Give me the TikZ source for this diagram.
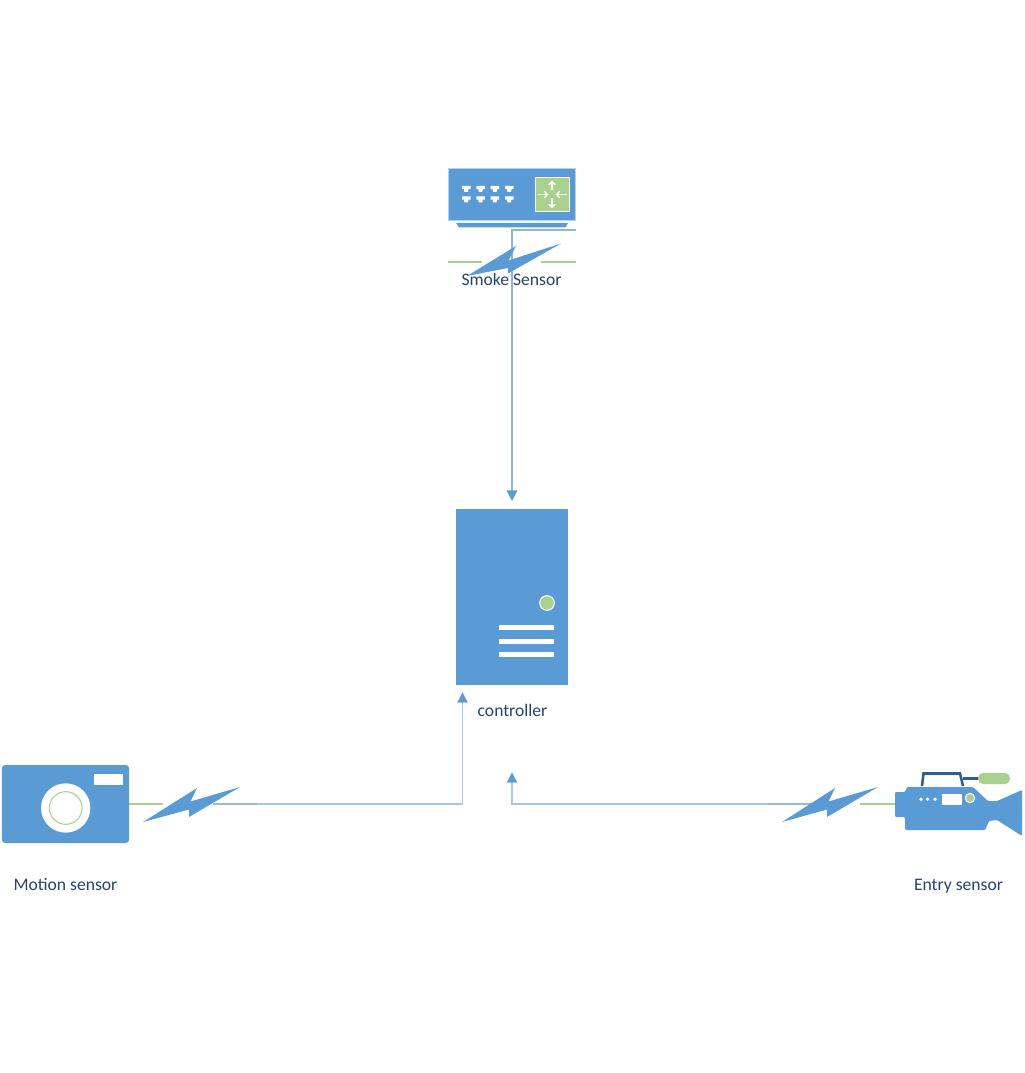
\documentclass[tikz,border=0pt]{standalone}
\usepackage{fontspec}
\setmainfont{Carlito}
\usetikzlibrary{arrows.meta}
\definecolor{vblue}{HTML}{5B9BD5}
\definecolor{vgreen}{HTML}{A9D18E}
\definecolor{vdark}{HTML}{2E5F94}
\definecolor{vtext}{HTML}{24446B}
\definecolor{vwire}{HTML}{8DB5DC}
\tikzset{
  x=0.75pt,y=-0.75pt,
  label text/.style={text=vtext,font=\fontsize{13.2}{15}\selectfont,inner sep=0pt,anchor=base},
  box/.style={fill=vblue,draw=none,inner sep=0pt,outer sep=0pt,rectangle},
  wire/.style={draw=vwire,line width=1pt,-{Triangle[length=8pt,width=8pt,color=vblue,fill=vblue]}},
  greenlink/.style={draw=vgreen,line width=1.1pt},
  bolt/.style={fill=vblue,draw=none},
  port/.style={fill=white,draw=none},
  uparrow/.style={draw=white,line width=0.9pt,-{Straight Barb[length=2.6pt,width=5pt]}},
}
\newcommand{\vport}[2]{\fill[port] (#1,#2) -- (#1+8.5,#2) -- (#1+8.5,#2+3.2) -- (#1+6.5,#2+3.2) -- (#1+6,#2+6) -- (#1+2.5,#2+6) -- (#1+2,#2+3.2) -- (#1,#2+3.2) -- cycle;}
\begin{document}
\begin{tikzpicture}
\useasboundingbox (0,0) rectangle (1024,1073);
\fill[white] (0,0) rectangle (1024,1073);

% --- Smoke sensor (switch)
\node[box,draw=vblue!45!white,line width=0.6pt,minimum width=95pt,minimum height=38.5pt] (switch) at (512,194.5) {};
\fill[vblue] (456,223) -- (568,223) -- (565.5,227.5) -- (459,227.5) -- cycle;
\node[fill=vgreen,draw=white,line width=0.6pt,inner sep=0pt,minimum width=25.5pt,minimum height=25pt] (router) at (552,194.5) {};
\foreach \px in {462,476.3,490.6,505}{
  \vport{\px}{186}
  \vport{\px}{196.5}
}
\draw[uparrow] (552,190.5) -- (552,180.5);
\draw[uparrow] (552,198.5) -- (552,208.5);
\draw[uparrow] (537.5,194.5) -- (548.5,194.5);
\draw[uparrow] (566.5,194.5) -- (555.5,194.5);
\coordinate (smokeout) at (576,230);
\coordinate (smokecorner) at (512,230);
\coordinate (smokeL) at (448,262);
\coordinate (smokeLb) at (482,262);
\coordinate (smokeR) at (541,262);
\coordinate (smokeRb) at (576,262);
\draw[greenlink] (smokeL) -- (smokeLb);
\draw[greenlink] (smokeR) -- (smokeRb);

% --- Controller
\node[box,minimum width=84pt,minimum height=132pt] (ctrl) at (512,597) {};
\node[circle,fill=vgreen,draw=white,line width=0.8pt,inner sep=0pt,minimum size=11pt] (led) at (547,603) {};
\foreach \by in {625,638.5,652}{
  \fill[white] (498.5,\by) rectangle (554,\by+5);
}
\coordinate (ctrltop) at (512,501);
\coordinate (ctrlleft) at (462.5,692);
\coordinate (ctrlmid) at (512,772);
\draw[wire] (smokeout) -- (smokecorner) -- (ctrltop);

% --- Motion sensor (camera)
\node[box,rounded corners=2.5pt,minimum width=95.5pt,minimum height=58.5pt] (cam) at (65.5,804) {};
\fill[white] (94,774) rectangle (123,784.5);
\node[circle,fill=white,draw=none,inner sep=0pt,minimum size=37pt] (lens) at (65.7,808) {};
\node[circle,draw=vgreen,line width=0.8pt,fill=white,inner sep=0pt,minimum size=24.5pt] (lensring) at (65.7,808) {};
\coordinate (camgreen) at (163,804);
\coordinate (camblue) at (213,804);
\coordinate (camblueb) at (257,804);
\draw[greenlink] (cam.east) -- (camgreen);

% --- Entry sensor (video camera)
\draw[vdark,line width=1.9pt] (922,786) -- (923.5,773.5) -- (960,773.5) -- (963,786);
\draw[vdark,line width=1.9pt] (963,778.5) -- (979,778.5);
\node[fill=vgreen,rounded corners=4pt,inner sep=0pt,minimum width=24pt,minimum height=8.5pt] (mic) at (994,778.5) {};
\fill[vblue,rounded corners=0.8pt] (895,792) -- (905,792) -- (907,787) -- (973,787) -- (988,801) -- (997,801) -- (1022,790) -- (1022,836) -- (997,820) -- (989,821) -- (985,830) -- (905,830) -- (905,817) -- (895,817) -- cycle;
\coordinate (videoport) at (895,804);
\coordinate (videogreen) at (860,804);
\coordinate (videoblue) at (812,804);
\coordinate (videoblueb) at (768,804);
\foreach \dx in {921,927.5,935}{
  \fill[white] (\dx,799.3) circle[radius=1.9];
}
\fill[white] (942,794) rectangle (962,805);
\node[circle,fill=vgreen,draw=white,line width=0.8pt,inner sep=0pt,minimum size=7pt] (videoled) at (970,798) {};
\draw[greenlink] (videoport) -- (videogreen);

% --- Wires
\draw[greenlink] (camblue) -- (camblueb);
\draw[greenlink] (videoblue) -- (videoblueb);
\draw[wire,draw opacity=0.75] (camblue) -- (ctrlleft |- camblue) -- (ctrlleft);
\draw[wire,draw opacity=0.75] (videoblue) -- (ctrlmid |- videoblue) -- (ctrlmid);

% --- Lightning bolts
\fill[bolt] (467,276) -- (516,246) -- (508.5,260.5) -- (561,243.5) -- (508,273.5) -- (508,268) -- cycle;
\fill[bolt] (143,822) -- (197,788) -- (190.5,801.5) -- (240,787) -- (189,817) -- (189,809.5) -- cycle;
\fill[bolt] (782,822) -- (835,788) -- (828.5,801.5) -- (878,787) -- (827,817) -- (827,809.5) -- cycle;

% --- Labels
\node[label text] (smokelabel) at (511.5,285) {Smoke Sensor};
\node[label text] (ctrllabel) at (512.5,716) {controller};
\node[label text] (motionlabel) at (65.5,890.5) {Motion sensor};
\node[label text] (entrylabel) at (958.5,890.5) {Entry sensor};
\end{tikzpicture}
\end{document}
